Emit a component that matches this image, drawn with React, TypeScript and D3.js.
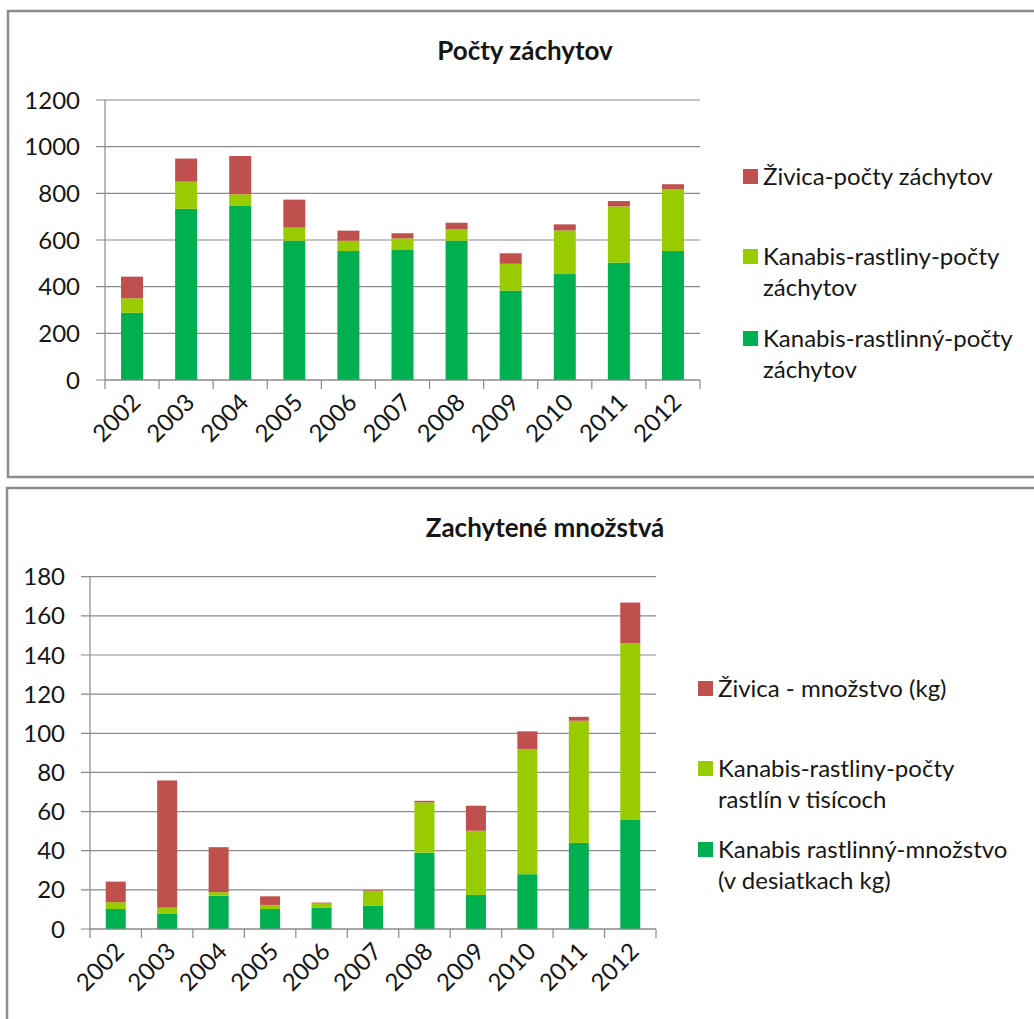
import React from 'react';
import * as d3 from 'd3';

// Years on the category axis
const years = ['2002', '2003', '2004', '2005', '2006', '2007', '2008', '2009', '2010', '2011', '2012'];

// Počty záchytov (number of seizures)
const seizuresResin = [93, 99, 164, 120, 43, 22, 27, 45, 26, 23, 22];
const seizuresPlants = [62, 116, 50, 56, 44, 50, 50, 115, 187, 241, 264];
const seizuresHerbal = [288, 734, 746, 597, 553, 557, 597, 383, 454, 503, 553];

// Zachytené množstvá (quantities seized)
const amountResin = [10.5, 65, 23, 4.4, 0.5, 0.3, 0.8, 12.8, 9, 2, 20.8];
const amountPlants = [3.5, 3.2, 1.8, 2.1, 2, 7.6, 25.7, 32.8, 64, 62.4, 90];
const amountHerbal = [10.2, 7.7, 17, 10.2, 11, 12, 39, 17.4, 28, 44, 56];

const seizureTicks = [0, 200, 400, 600, 800, 1000, 1200];
const amountTicks = [0, 20, 40, 60, 80, 100, 120, 140, 160, 180];

const seizureLegend = [
  ['Živica-počty záchytov'],
  ['Kanabis-rastliny-počty', 'záchytov'],
  ['Kanabis-rastlinný-počty', 'záchytov'],
];
const amountLegend = [
  ['Živica - množstvo (kg)'],
  ['Kanabis-rastliny-počty', 'rastlín v tisícoch'],
  ['Kanabis rastlinný-množstvo', '(v desiatkach kg)'],
];

const RED = '#C0504D';
const LIME = '#99CC00';
const GREEN = '#00B050';
const SERIES_COLORS = [GREEN, LIME, RED];
const LEGEND_COLORS = [RED, LIME, GREEN];
const FONT = 'Lato, "Open Sans", "DejaVu Sans", sans-serif';
const GRID = '#8a8a8a';
const TEXT = '#161616';
const LABEL_SIZE = 24;

type PanelProps = {
  frameY: number;
  frameH: number;
  frameX: number;
  title: string;
  titleX: number;
  titleY: number;
  left: number;
  right: number;
  top: number;
  bottom: number;
  max: number;
  ticks: number[];
  barWidth: number;
  herbal: number[];
  plants: number[];
  resin: number[];
  legend: string[][];
  legendX: number;
  legendBaselines: number[];
};

function StackedPanel(p: PanelProps) {
  const x = d3.scaleBand<string>().domain(years).range([p.left, p.right]).paddingInner(0).paddingOuter(0);
  const y = d3.scaleLinear().domain([0, p.max]).range([p.bottom, p.top]);
  const rows = years.map((yr, i) => ({ year: yr, herbal: p.herbal[i], plants: p.plants[i], resin: p.resin[i] }));
  const stack = d3.stack<any>().keys(['herbal', 'plants', 'resin']);
  const layers = stack(rows);
  const bw = x.bandwidth();
  const boundaries = d3.range(years.length + 1).map((i) => p.left + i * bw);
  const lineH = 31;

  return (
    <g>
      <rect x={p.frameX} y={p.frameY} width={1060} height={p.frameH} fill="#fff" stroke="#8c8c8c" strokeWidth={2.5} />
      <text x={p.titleX} y={p.titleY} textAnchor="middle" fontFamily={FONT} fontWeight={700} fontSize={26} fill={TEXT}>
        {p.title}
      </text>
      {/* gridlines and y ticks */}
      {p.ticks.map((t) => (
        <g key={t}>
          <line x1={p.left - 9} x2={p.right} y1={y(t)} y2={y(t)} stroke={GRID} strokeWidth={1.2} />
          <text x={p.left - 25} y={y(t)} dy="0.36em" textAnchor="end" fontFamily={FONT} fontSize={LABEL_SIZE} fill={TEXT}>
            {t}
          </text>
        </g>
      ))}
      {/* bars */}
      {layers.map((layer, li) => (
        <g key={layer.key} fill={SERIES_COLORS[li]}>
          {layer.map((d, i) => (
            <rect
              key={i}
              x={(x(years[i]) as number) + bw / 2 - p.barWidth / 2}
              width={p.barWidth}
              y={y(d[1])}
              height={Math.max(0, y(d[0]) - y(d[1]))}
            />
          ))}
        </g>
      ))}
      {/* axes */}
      <line x1={p.left} x2={p.left} y1={p.top} y2={p.bottom} stroke={GRID} strokeWidth={1.2} />
      <line x1={p.left} x2={p.right} y1={p.bottom} y2={p.bottom} stroke={GRID} strokeWidth={1.2} />
      {boundaries.map((bx, i) => (
        <line key={i} x1={bx} x2={bx} y1={p.bottom} y2={p.bottom + 9} stroke={GRID} strokeWidth={1.2} />
      ))}
      {years.map((yr) => {
        const cx = (x(yr) as number) + bw / 2 + 10;
        const cy = p.bottom + 24;
        return (
          <text
            key={yr}
            x={cx}
            y={cy}
            transform={`rotate(-45 ${cx} ${cy})`}
            textAnchor="end"
            fontFamily={FONT}
            fontSize={LABEL_SIZE}
            fill={TEXT}
          >
            {yr}
          </text>
        );
      })}
      {/* legend */}
      {p.legend.map((lines, i) => (
        <g key={i}>
          <rect x={p.legendX} y={p.legendBaselines[i] - 16} width={15} height={15} fill={LEGEND_COLORS[i]} />
          {lines.map((ln, j) => (
            <text key={j} x={p.legendX + 20} y={p.legendBaselines[i] + j * lineH} fontFamily={FONT} fontSize={LABEL_SIZE} fill={TEXT}>
              {ln}
            </text>
          ))}
        </g>
      ))}
    </g>
  );
}

export default function App() {
  return (
    <svg width={1034} height={1019} style={{ position: 'absolute', left: 0, top: 0, background: '#fff' }}>
      <StackedPanel
        frameX={8}
        frameY={11}
        frameH={466}
        title="Počty záchytov"
        titleX={525}
        titleY={60}
        left={105}
        right={700}
        top={100}
        bottom={380}
        max={1200}
        ticks={seizureTicks}
        barWidth={22}
        herbal={seizuresHerbal}
        plants={seizuresPlants}
        resin={seizuresResin}
        legend={seizureLegend}
        legendX={743}
        legendBaselines={[185, 265, 347]}
      />
      <StackedPanel
        frameX={7}
        frameY={488}
        frameH={560}
        title="Zachytené množstvá"
        titleX={545}
        titleY={537}
        left={90}
        right={656}
        top={576.7}
        bottom={929}
        max={180}
        ticks={amountTicks}
        barWidth={20}
        herbal={amountHerbal}
        plants={amountPlants}
        resin={amountResin}
        legend={amountLegend}
        legendX={698}
        legendBaselines={[697, 777, 858]}
      />
    </svg>
  );
}
